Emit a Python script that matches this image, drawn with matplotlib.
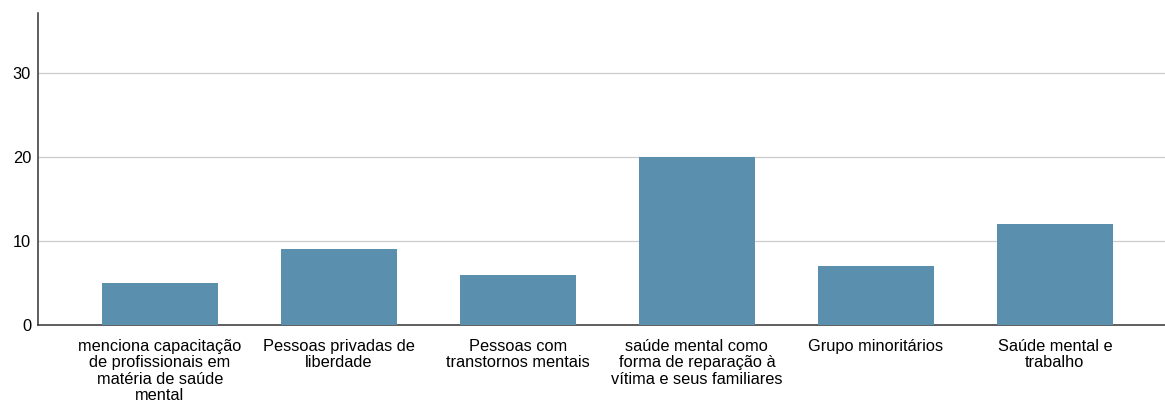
import matplotlib.pyplot as plt

plt.rcParams['font.family'] = ['Liberation Sans', 'DejaVu Sans']

categories = [
    "menciona capacitação\nde profissionais em\nmatéria de saúde\nmental",
    "Pessoas privadas de\nliberdade",
    "Pessoas com\ntranstornos mentais",
    "saúde mental como\nforma de reparação à\nvítima e seus familiares",
    "Grupo minoritários",
    "Saúde mental e\ntrabalho",
]
values = [5, 9, 6, 20, 7, 12]
yticks = [0, 10, 20, 30]

fig = plt.figure(figsize=(11.65, 4.05), dpi=100)
ax = fig.add_axes([38 / 1165, 80 / 405, 1 - 38 / 1165, 312 / 405])

x = list(range(len(categories)))
ax.bar(x, values, width=0.65, color="#5a8fae", zorder=3)

ax.set_xlim(-0.68, 5.615)
ax.set_ylim(0, 37.1)
ax.set_yticks(yticks)
ax.set_xticks(x)
ax.set_xticklabels(categories, fontsize=11.8, linespacing=1.12)
ax.tick_params(axis="y", length=0, labelsize=11.8, pad=5)
ax.tick_params(axis="x", length=0, pad=10)
ax.grid(axis="y", color="#cccccc", linewidth=0.9, zorder=0)

for side in ["top", "right"]:
    ax.spines[side].set_visible(False)
ax.spines["left"].set_color("#333333")
ax.spines["bottom"].set_color("#333333")
ax.spines["left"].set_linewidth(1.1)
ax.spines["bottom"].set_linewidth(1.1)

fig.savefig("out.png", dpi=100)
